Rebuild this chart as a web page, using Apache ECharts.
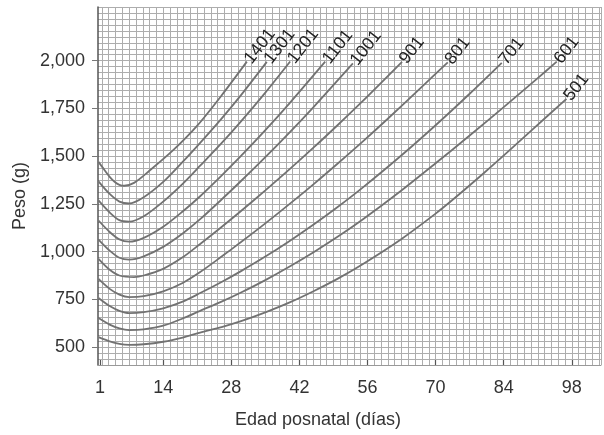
<!DOCTYPE html>
<html>
<head>
<meta charset="utf-8">
<script src="https://cdn.jsdelivr.net/npm/echarts@6/dist/echarts.min.js"></script>
<style>
html,body{margin:0;padding:0;background:#fff;}
#chart{width:604px;height:435px;}
</style>
</head>
<body>
<div id="chart"></div>
<script>
// Axis ticks
const xTicks = [1, 14, 28, 42, 56, 70, 84, 98];
const yTicks = [500, 750, 1000, 1250, 1500, 1750, 2000];
const xAxisTitle = 'Edad posnatal (días)';
const yAxisTitle = 'Peso (g)';

// Curve names (birth weight groups)
const curveNames = ['1401', '1301', '1201', '1101', '1001', '901', '801', '701', '601', '501'];

// Days (x) and weights in g (y) for each curve
const d1401 = [0.7, 2, 3, 4, 5, 6, 8, 11, 16, 21, 26, 31.2];
const w1401 = [1470, 1425, 1392, 1366, 1350, 1345, 1360, 1420, 1530, 1660, 1818, 1995];

const d1301 = [0.7, 3, 5, 7, 10, 14, 18, 21.6, 26, 30, 35.3];
const w1301 = [1368, 1302, 1262, 1252, 1285, 1365, 1470, 1570, 1697, 1820, 1994];

const d1201 = [0.7, 3, 5, 7, 10, 14, 18, 21.6, 26, 30, 35, 40.1];
const w1201 = [1268, 1205, 1165, 1157, 1185, 1262, 1355, 1450, 1568, 1682, 1833, 1996];

const d1101 = [0.7, 3, 5, 7, 10, 14, 18, 21.6, 26, 30, 35, 40, 47.3];
const w1101 = [1163, 1103, 1064, 1052, 1072, 1130, 1210, 1290, 1398, 1501, 1636, 1778, 1995];

const d1001 = [0.7, 3, 5, 7, 10, 14, 18, 21.6, 26, 30, 35, 40, 45, 53];
const w1001 = [1063, 1005, 968, 958, 975, 1025, 1095, 1170, 1273, 1370, 1495, 1625, 1760, 1986];

const d901 = [0.7, 3, 5, 8, 10, 14, 18, 21.6, 26, 30, 35, 40, 45, 50, 55, 63.1];
const w901 = [962, 905, 875, 867, 875, 910, 970, 1040, 1129, 1213, 1321, 1432, 1547, 1666, 1788, 1994];

const d801 = [0.7, 3, 5, 7, 10, 14, 18, 21.6, 26, 30, 35, 40, 45, 50, 55, 60, 67, 72.5];
const w801 = [857, 805, 775, 762, 767, 792, 836, 893, 974, 1050, 1148, 1250, 1355, 1464, 1576, 1692, 1859, 1991];

const d701 = [0.7, 3, 5, 7, 10, 14, 18, 21.6, 26, 30, 35, 40, 45, 50, 55, 62.7, 70, 77, 83.6];
const w701 = [757, 715, 690, 678, 683, 703, 738, 783, 841, 898, 974, 1056, 1143, 1236, 1335, 1498, 1662, 1827, 1989];

const d601 = [0.7, 3, 5, 7, 10, 14, 18, 21.6, 26, 30, 35, 40, 45, 50, 55, 62.7, 70, 77, 84, 91, 94.9];
const w601 = [652, 618, 598, 589, 593, 612, 650, 690, 738, 786, 851, 922, 998, 1080, 1168, 1315, 1463, 1608, 1757, 1909, 1995];

const d501 = [0.7, 3, 5, 7, 10, 14, 18, 21.6, 26, 30, 35, 40, 45, 50, 55, 62.7, 70, 74, 80, 85, 90, 96.9];
const w501 = [552, 530, 517, 512, 515, 528, 550, 576, 605, 636, 682, 734, 794, 860, 934, 1061, 1199, 1282, 1413, 1526, 1642, 1800];

const curveDays = [d1401, d1301, d1201, d1101, d1001, d901, d801, d701, d601, d501];
const curveWeights = [w1401, w1301, w1201, w1101, w1001, w901, w801, w701, w601, w501];

const FONT = "'Liberation Sans', Arial, sans-serif";
const TEXT = '#333';
const GRIDC = '#adadad';
const LINEC = '#727272';

function fmt(v) { return String(v).replace(/\B(?=(\d{3})+(?!\d))/g, ','); }

const series = curveNames.map(function (name, k) {
  const ds = curveDays[k], ws = curveWeights[k];
  const data = ds.map(function (d, i) {
    if (i === ds.length - 1) {
      return {
        value: [d, ws[i]],
        label: {
          show: true, formatter: name, position: 'right', rotate: 52, distance: 1,
          fontSize: 17.5, color: '#222', fontFamily: FONT
        }
      };
    }
    return [d, ws[i]];
  });
  return {
    type: 'line', name: name, xAxisIndex: 0, yAxisIndex: 0,
    data: data, smooth: 0.3,
    showSymbol: true, symbol: 'circle', symbolSize: 0,
    itemStyle: { color: 'rgba(0,0,0,0)', borderWidth: 0 },
    lineStyle: { color: LINEC, width: 1.8 },
    emphasis: { disabled: true },
    z: 5
  };
});

const GRID_A = { left: 98, right: 3, top: 7, bottom: 70 };

const chart = echarts.init(document.getElementById('chart'), null, { renderer: 'canvas' });
chart.setOption({
  animation: false,
  backgroundColor: '#fff',
  grid: [
    GRID_A,
    { left: 95.08, right: 3, top: 7, bottom: 70 },
    GRID_A
  ],
  xAxis: [
    {
      type: 'value', gridIndex: 0, min: 0.6, max: 104,
      name: xAxisTitle, nameLocation: 'middle', nameGap: 46,
      nameTextStyle: { fontSize: 18, color: TEXT, fontFamily: FONT, padding: [0, 63, 0, 0] },
      axisLine: { show: true, lineStyle: { color: '#999', width: 1 } },
      axisTick: { show: true, inside: true, length: 5, customValues: xTicks, lineStyle: { color: '#555', width: 1.2 } },
      axisLabel: { customValues: xTicks, fontSize: 18, color: TEXT, fontFamily: FONT, margin: 14 },
      splitLine: { show: false }
    },
    {
      type: 'value', gridIndex: 1, min: 0, max: 104, interval: 1.4,
      axisLine: { show: false }, axisTick: { show: false }, axisLabel: { show: false },
      splitLine: { show: true, showMinLine: false, lineStyle: { color: GRIDC, width: 1 } }
    },
    {
      type: 'value', gridIndex: 2, min: 0.6, max: 104, show: false
    }
  ],
  yAxis: [
    {
      type: 'value', gridIndex: 0, min: 406.25, max: 2281.25,
      name: yAxisTitle, nameLocation: 'middle', nameGap: 68,
      nameTextStyle: { fontSize: 18, color: TEXT, fontFamily: FONT, padding: [0, 20, 0, 0] },
      axisLine: { show: true, lineStyle: { color: '#555', width: 1.5 } },
      axisTick: { show: true, length: 6, customValues: yTicks, lineStyle: { color: '#777' } },
      axisLabel: { customValues: yTicks, formatter: fmt, fontSize: 18, color: TEXT, fontFamily: FONT, margin: 13 },
      splitLine: { show: false }
    },
    {
      type: 'value', gridIndex: 1, min: 406.25, max: 2281.25, show: false
    },
    {
      type: 'value', gridIndex: 2, min: 406.25, max: 2281.25, interval: 31.25,
      axisLine: { show: false }, axisTick: { show: false }, axisLabel: { show: false },
      splitLine: { show: true, lineStyle: { color: GRIDC, width: 1 } }
    }
  ],
  series: series
});
</script>
</body>
</html>
